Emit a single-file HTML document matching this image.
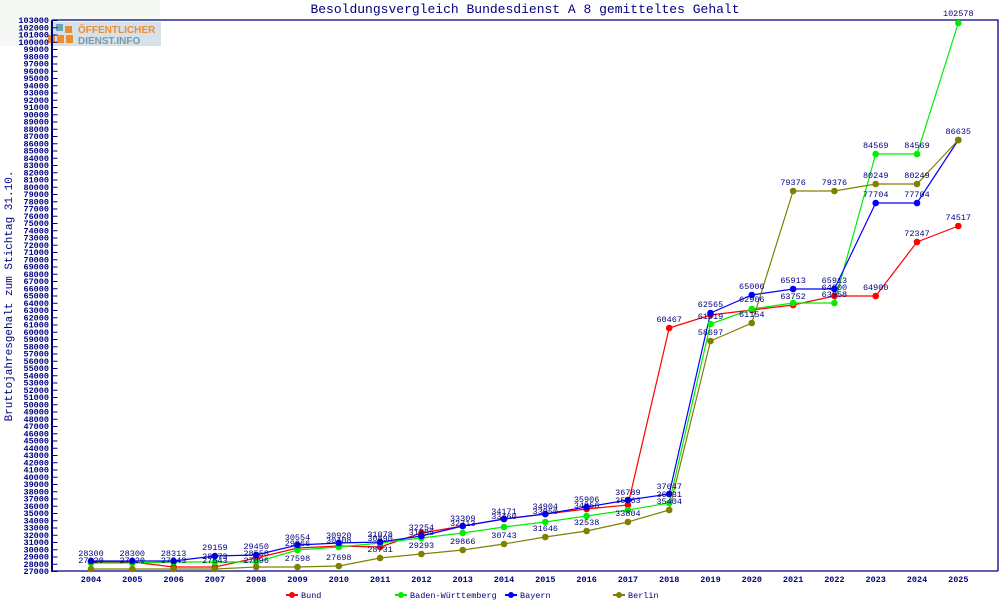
<!DOCTYPE html>
<html><head><meta charset="utf-8"><style>
html,body{margin:0;padding:0;background:#fff;}
svg{display:block;font-family:"Liberation Mono",monospace;}
</style></head><body>
<svg width="1000" height="600" viewBox="0 0 1000 600" xmlns="http://www.w3.org/2000/svg">
<rect width="1000" height="600" fill="#fff"/>
<rect x="0" y="0" width="160" height="46" fill="#f6f8f6"/>
<text x="525" y="13" font-size="13" fill="#000080" text-anchor="middle">Besoldungsvergleich Bundesdienst A 8 gemitteltes Gehalt</text>
<text transform="translate(12,296) rotate(-90)" font-size="11" fill="#000080" text-anchor="middle">Bruttojahresgehalt zum Stichtag 31.10.</text>
<!-- logo -->
<rect x="50" y="22" width="111" height="24" fill="#d6e2ea"/>
<rect x="56" y="24" width="7" height="7" fill="#6aa6b4"/>
<rect x="65" y="26" width="7" height="7" fill="#f08c30"/>
<rect x="48" y="35" width="7" height="8" fill="#f08c30"/>
<rect x="57" y="35" width="7" height="8" fill="#f08c30"/>
<rect x="66" y="35" width="7" height="8" fill="#f08c30"/>
<text x="78" y="33" font-size="10" font-weight="bold" fill="#f08c30" font-family="Liberation Sans,sans-serif">ÖFFENTLICHER</text>
<text x="78" y="44" font-size="10" font-weight="bold" fill="#7a98a8" font-family="Liberation Sans,sans-serif">DIENST.INFO</text>
<!-- axes -->
<path d="M52 20H998V571M52 20V571H998" fill="none" stroke="#000080" stroke-width="1.3"/>
<line x1="52" y1="20" x2="52" y2="572" stroke="#000080" stroke-width="2"/>
<line x1="55" y1="20" x2="55" y2="572" stroke="#000080" stroke-width="5" stroke-dasharray="1 6.25"/>
<g font-size="8.5" fill="#000080" text-anchor="end" font-weight="bold">
<text x="49" y="23">103000</text><text x="49" y="30.25">102000</text><text x="49" y="37.5">101000</text><text x="49" y="44.75">100000</text><text x="49" y="52">99000</text><text x="49" y="59.25">98000</text><text x="49" y="66.5">97000</text><text x="49" y="73.75">96000</text><text x="49" y="81">95000</text><text x="49" y="88.25">94000</text><text x="49" y="95.5">93000</text><text x="49" y="102.75">92000</text><text x="49" y="110">91000</text><text x="49" y="117.25">90000</text><text x="49" y="124.5">89000</text><text x="49" y="131.75">88000</text><text x="49" y="139">87000</text><text x="49" y="146.25">86000</text><text x="49" y="153.5">85000</text><text x="49" y="160.75">84000</text><text x="49" y="168">83000</text><text x="49" y="175.25">82000</text><text x="49" y="182.5">81000</text><text x="49" y="189.75">80000</text><text x="49" y="197">79000</text><text x="49" y="204.25">78000</text><text x="49" y="211.5">77000</text><text x="49" y="218.75">76000</text><text x="49" y="226">75000</text><text x="49" y="233.25">74000</text><text x="49" y="240.5">73000</text><text x="49" y="247.75">72000</text><text x="49" y="255">71000</text><text x="49" y="262.25">70000</text><text x="49" y="269.5">69000</text><text x="49" y="276.75">68000</text><text x="49" y="284">67000</text><text x="49" y="291.25">66000</text><text x="49" y="298.5">65000</text><text x="49" y="305.75">64000</text><text x="49" y="313">63000</text><text x="49" y="320.25">62000</text><text x="49" y="327.5">61000</text><text x="49" y="334.75">60000</text><text x="49" y="342">59000</text><text x="49" y="349.25">58000</text><text x="49" y="356.5">57000</text><text x="49" y="363.75">56000</text><text x="49" y="371">55000</text><text x="49" y="378.25">54000</text><text x="49" y="385.5">53000</text><text x="49" y="392.75">52000</text><text x="49" y="400">51000</text><text x="49" y="407.25">50000</text><text x="49" y="414.5">49000</text><text x="49" y="421.75">48000</text><text x="49" y="429">47000</text><text x="49" y="436.25">46000</text><text x="49" y="443.5">45000</text><text x="49" y="450.75">44000</text><text x="49" y="458">43000</text><text x="49" y="465.25">42000</text><text x="49" y="472.5">41000</text><text x="49" y="479.75">40000</text><text x="49" y="487">39000</text><text x="49" y="494.25">38000</text><text x="49" y="501.5">37000</text><text x="49" y="508.75">36000</text><text x="49" y="516">35000</text><text x="49" y="523.25">34000</text><text x="49" y="530.5">33000</text><text x="49" y="537.75">32000</text><text x="49" y="545">31000</text><text x="49" y="552.25">30000</text><text x="49" y="559.5">29000</text><text x="49" y="566.75">28000</text><text x="49" y="574">27000</text>
</g>
<g font-size="8.5" fill="#000080" text-anchor="middle" font-weight="bold">
<text x="91" y="582">2004</text><text x="132.3" y="582">2005</text><text x="173.6" y="582">2006</text><text x="214.9" y="582">2007</text><text x="256.2" y="582">2008</text><text x="297.5" y="582">2009</text><text x="338.8" y="582">2010</text><text x="380.1" y="582">2011</text><text x="421.4" y="582">2012</text><text x="462.7" y="582">2013</text><text x="504" y="582">2014</text><text x="545.3" y="582">2015</text><text x="586.6" y="582">2016</text><text x="627.9" y="582">2017</text><text x="669.2" y="582">2018</text><text x="710.5" y="582">2019</text><text x="751.8" y="582">2020</text><text x="793.1" y="582">2021</text><text x="834.4" y="582">2022</text><text x="875.7" y="582">2023</text><text x="917" y="582">2024</text><text x="958.3" y="582">2025</text>
</g>
<!-- series -->
<g fill="none" stroke-width="1.2">
<polyline stroke="#ff0000" points="91,562 132.3,562 173.6,567 214.9,567 256.2,558 297.5,548 338.8,546 380.1,547 421.4,533 462.7,526 504,519 545.3,514 586.6,509 627.9,505 669.2,328 710.5,315 751.8,310 793.1,305 834.4,296 875.7,296 917,242 958.3,226"/>
<polyline stroke="#00ee00" points="91,563 132.3,563 173.6,562 214.9,562 256.2,562 297.5,550 338.8,547 380.1,543 421.4,538 462.7,533 504,527 545.3,522 586.6,516 627.9,510 669.2,503 710.5,324 751.8,309 793.1,303 834.4,303 875.7,154 917,154 958.3,23"/>
<polyline stroke="#0000ff" points="91,561 132.3,561 173.6,561 214.9,556 256.2,555 297.5,545 338.8,543 380.1,542 421.4,536 462.7,526 504,519 545.3,514 586.6,507 627.9,500 669.2,494 710.5,313 751.8,295 793.1,289 834.4,289 875.7,203 917,203 958.3,140"/>
<polyline stroke="#808000" points="91,569 132.3,569 173.6,569 214.9,569 256.2,567 297.5,567 338.8,566 380.1,558 421.4,554 462.7,550 504,544 545.3,537 586.6,531 627.9,522 669.2,510 710.5,341 751.8,323 793.1,191 834.4,191 875.7,184 917,184 958.3,140"/>
</g>
<g fill="#ff0000">
<circle cx="91" cy="562" r="3.3"/><circle cx="132.3" cy="562" r="3.3"/><circle cx="173.6" cy="567" r="3.3"/><circle cx="214.9" cy="567" r="3.3"/><circle cx="256.2" cy="558" r="3.3"/><circle cx="297.5" cy="548" r="3.3"/><circle cx="338.8" cy="546" r="3.3"/><circle cx="380.1" cy="547" r="3.3"/><circle cx="421.4" cy="533" r="3.3"/><circle cx="462.7" cy="526" r="3.3"/><circle cx="504" cy="519" r="3.3"/><circle cx="545.3" cy="514" r="3.3"/><circle cx="586.6" cy="509" r="3.3"/><circle cx="627.9" cy="505" r="3.3"/><circle cx="669.2" cy="328" r="3.3"/><circle cx="710.5" cy="315" r="3.3"/><circle cx="751.8" cy="310" r="3.3"/><circle cx="793.1" cy="305" r="3.3"/><circle cx="834.4" cy="296" r="3.3"/><circle cx="875.7" cy="296" r="3.3"/><circle cx="917" cy="242" r="3.3"/><circle cx="958.3" cy="226" r="3.3"/>
</g>
<g fill="#00ee00">
<circle cx="91" cy="563" r="3.3"/><circle cx="132.3" cy="563" r="3.3"/><circle cx="173.6" cy="562" r="3.3"/><circle cx="214.9" cy="562" r="3.3"/><circle cx="256.2" cy="562" r="3.3"/><circle cx="297.5" cy="550" r="3.3"/><circle cx="338.8" cy="547" r="3.3"/><circle cx="380.1" cy="543" r="3.3"/><circle cx="421.4" cy="538" r="3.3"/><circle cx="462.7" cy="533" r="3.3"/><circle cx="504" cy="527" r="3.3"/><circle cx="545.3" cy="522" r="3.3"/><circle cx="586.6" cy="516" r="3.3"/><circle cx="627.9" cy="510" r="3.3"/><circle cx="669.2" cy="503" r="3.3"/><circle cx="710.5" cy="324" r="3.3"/><circle cx="751.8" cy="309" r="3.3"/><circle cx="793.1" cy="303" r="3.3"/><circle cx="834.4" cy="303" r="3.3"/><circle cx="875.7" cy="154" r="3.3"/><circle cx="917" cy="154" r="3.3"/><circle cx="958.3" cy="23" r="3.3"/>
</g>
<g fill="#0000ff">
<circle cx="91" cy="561" r="3.3"/><circle cx="132.3" cy="561" r="3.3"/><circle cx="173.6" cy="561" r="3.3"/><circle cx="214.9" cy="556" r="3.3"/><circle cx="256.2" cy="555" r="3.3"/><circle cx="297.5" cy="545" r="3.3"/><circle cx="338.8" cy="543" r="3.3"/><circle cx="380.1" cy="542" r="3.3"/><circle cx="421.4" cy="536" r="3.3"/><circle cx="462.7" cy="526" r="3.3"/><circle cx="504" cy="519" r="3.3"/><circle cx="545.3" cy="514" r="3.3"/><circle cx="586.6" cy="507" r="3.3"/><circle cx="627.9" cy="500" r="3.3"/><circle cx="669.2" cy="494" r="3.3"/><circle cx="710.5" cy="313" r="3.3"/><circle cx="751.8" cy="295" r="3.3"/><circle cx="793.1" cy="289" r="3.3"/><circle cx="834.4" cy="289" r="3.3"/><circle cx="875.7" cy="203" r="3.3"/><circle cx="917" cy="203" r="3.3"/><circle cx="958.3" cy="140" r="3.3"/>
</g>
<g fill="#808000">
<circle cx="91" cy="569" r="3.3"/><circle cx="132.3" cy="569" r="3.3"/><circle cx="173.6" cy="569" r="3.3"/><circle cx="214.9" cy="569" r="3.3"/><circle cx="256.2" cy="567" r="3.3"/><circle cx="297.5" cy="567" r="3.3"/><circle cx="338.8" cy="566" r="3.3"/><circle cx="380.1" cy="558" r="3.3"/><circle cx="421.4" cy="554" r="3.3"/><circle cx="462.7" cy="550" r="3.3"/><circle cx="504" cy="544" r="3.3"/><circle cx="545.3" cy="537" r="3.3"/><circle cx="586.6" cy="531" r="3.3"/><circle cx="627.9" cy="522" r="3.3"/><circle cx="669.2" cy="510" r="3.3"/><circle cx="710.5" cy="341" r="3.3"/><circle cx="751.8" cy="323" r="3.3"/><circle cx="793.1" cy="191" r="3.3"/><circle cx="834.4" cy="191" r="3.3"/><circle cx="875.7" cy="184" r="3.3"/><circle cx="917" cy="184" r="3.3"/><circle cx="958.3" cy="140" r="3.3"/>
</g>
<!-- data labels -->
<g font-size="8.5" fill="#000080" text-anchor="middle">
<text x="91" y="556">28300</text><text x="91" y="563">27920</text>
<text x="132.3" y="556">28300</text><text x="132.3" y="563">27920</text>
<text x="173.6" y="556">28313</text><text x="173.6" y="563">27543</text>
<text x="214.9" y="550">29159</text><text x="214.9" y="559">28073</text><text x="214.9" y="563">27543</text>
<text x="256.2" y="549">29450</text><text x="256.2" y="556">28558</text><text x="256.2" y="563">27896</text>
<text x="297.5" y="540">30554</text><text x="297.5" y="546">29966</text><text x="297.5" y="561">27598</text>
<text x="338.8" y="538">30920</text><text x="338.8" y="543">30408</text><text x="338.8" y="560">27698</text>
<text x="380.1" y="537">31078</text><text x="380.1" y="541">30890</text><text x="380.1" y="552">28731</text>
<text x="421.4" y="530">32254</text><text x="421.4" y="535">31895</text><text x="421.4" y="548">29293</text>
<text x="462.7" y="521">33309</text><text x="462.7" y="526">32713</text><text x="462.7" y="544">29866</text>
<text x="504" y="514">34171</text><text x="504" y="519">33460</text><text x="504" y="538">30743</text>
<text x="545.3" y="509">34904</text><text x="545.3" y="514">33950</text><text x="545.3" y="531">31646</text>
<text x="586.6" y="502">35906</text><text x="586.6" y="508">34856</text><text x="586.6" y="525">32538</text>
<text x="627.9" y="495">36789</text><text x="627.9" y="503">35963</text><text x="627.9" y="516">33804</text>
<text x="669.2" y="489">37647</text><text x="669.2" y="497">36631</text><text x="669.2" y="504">35404</text>
<text x="669.2" y="322">60467</text>
<text x="710.5" y="307">62565</text><text x="710.5" y="319">61919</text><text x="710.5" y="335">58697</text>
<text x="751.8" y="289">65006</text><text x="751.8" y="302">62906</text><text x="751.8" y="317">61154</text>
<text x="793.1" y="185">79376</text><text x="793.1" y="283">65913</text><text x="793.1" y="299">63752</text>
<text x="834.4" y="185">79376</text><text x="834.4" y="283">65913</text><text x="834.4" y="290">64900</text><text x="834.4" y="297">63958</text>
<text x="875.7" y="148">84569</text><text x="875.7" y="178">80249</text><text x="875.7" y="197">77704</text><text x="875.7" y="290">64900</text>
<text x="917" y="148">84569</text><text x="917" y="178">80249</text><text x="917" y="197">77704</text><text x="917" y="236">72347</text>
<text x="958.3" y="16">102578</text><text x="958.3" y="134">86635</text><text x="958.3" y="220">74517</text>
</g>
<!-- legend -->
<g font-size="8.5" fill="#000080">
<line x1="286" y1="595" x2="298" y2="595" stroke="#ff0000" stroke-width="2"/><circle cx="292" cy="595" r="3" fill="#ff0000"/><text x="301" y="598">Bund</text>
<line x1="395" y1="595" x2="407" y2="595" stroke="#00ee00" stroke-width="2"/><circle cx="401" cy="595" r="3" fill="#00ee00"/><text x="410" y="598">Baden-Württemberg</text>
<line x1="505" y1="595" x2="517" y2="595" stroke="#0000ff" stroke-width="2"/><circle cx="511" cy="595" r="3" fill="#0000ff"/><text x="520" y="598">Bayern</text>
<line x1="613" y1="595" x2="625" y2="595" stroke="#808000" stroke-width="2"/><circle cx="619" cy="595" r="3" fill="#808000"/><text x="628" y="598">Berlin</text>
</g>
</svg>
</body></html>
